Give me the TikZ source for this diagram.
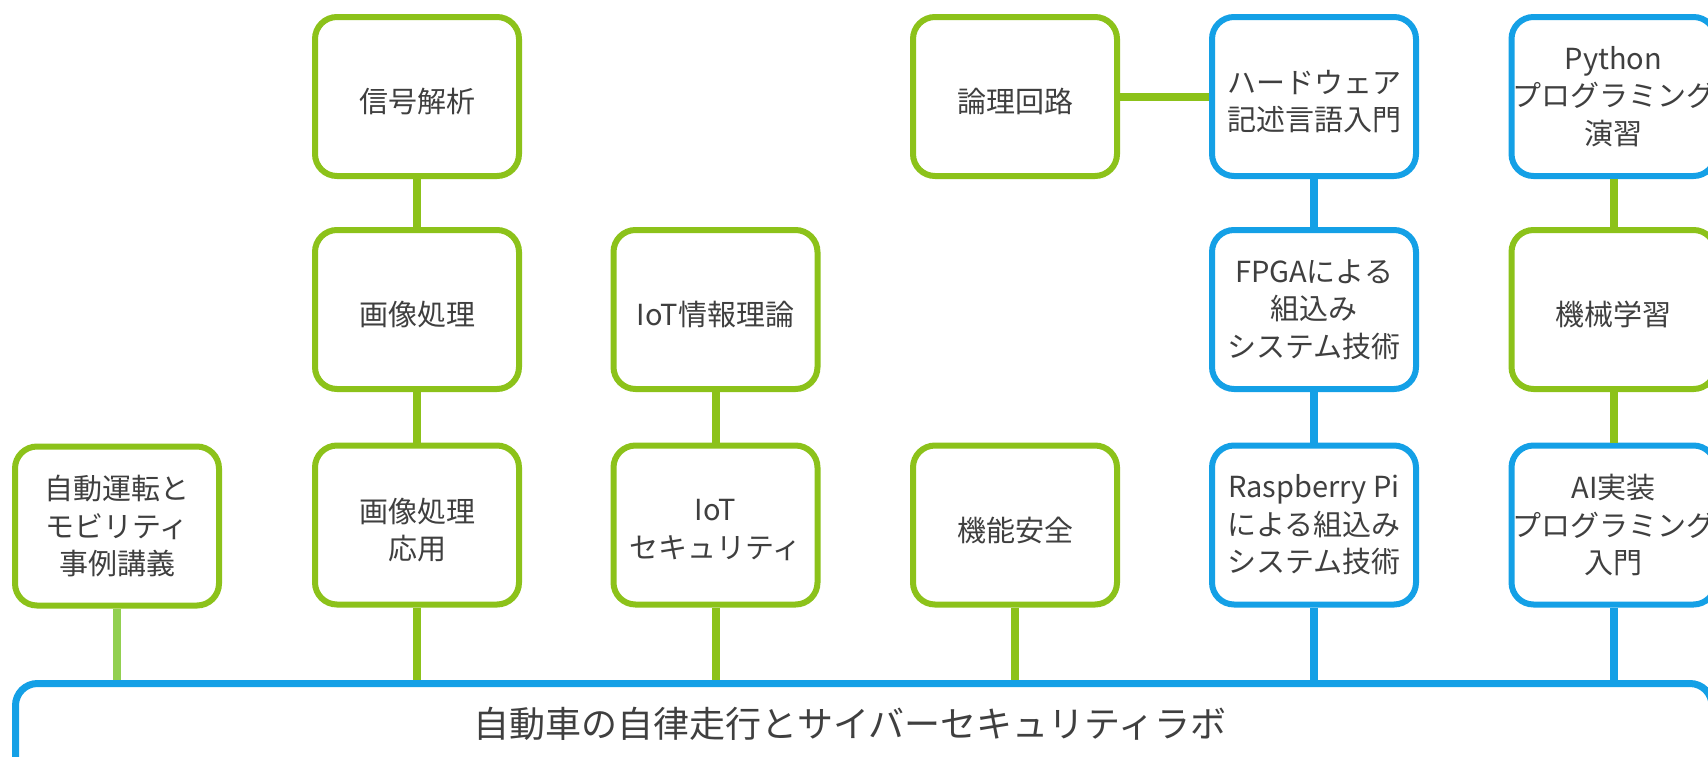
\documentclass[tikz,border=0pt]{standalone}
\usepackage{fontspec}
\setmainfont{Noto Sans CJK JP}
\definecolor{lgreen}{HTML}{8CC21A}
\definecolor{lblue}{HTML}{14A0E6}
\definecolor{pgreen}{HTML}{92D050}
\definecolor{txt}{HTML}{3F3F3F}
\newcommand\lowtext[1]{\raisebox{-5pt}[\height][\depth]{#1}}
\begin{document}
\begin{tikzpicture}[x=1pt,y=-1pt,
  box/.style={draw, line width=6pt, rounded corners=22pt, fill=white,
    minimum width=204pt, minimum height=159pt, align=center, text=txt,
    font=\fontsize{29}{37.5}\selectfont, inner sep=0pt},
  gbox/.style={box, draw=lgreen},
  bbox/.style={box, draw=lblue},
  gline/.style={draw=lgreen, line width=8pt},
  bline/.style={draw=lblue, line width=8pt},
  pline/.style={draw=pgreen, line width=8pt},
  barbox/.style={draw=lblue, line width=7pt, rounded corners=22pt,
    minimum width=1696.5pt, minimum height=116.5pt, inner sep=0pt},
  bartext/.style={text=txt, font=\fontsize{36}{40}\selectfont, inner sep=0pt}
]
\useasboundingbox (0,0) rectangle (1708,756);
\clip (0,0) rectangle (1708,756);

\node[barbox] (bar) at (863.75,741.75) {};
\node[bartext] (bartxt) at (850,724) {自動車の自律走行とサイバーセキュリティラボ};

\node[gbox] (jidou) at (117,526) {自動運転と\\モビリティ\\事例講義};
\node[gbox] (shingou) at (417,96.5) {\lowtext{信号解析}};
\node[gbox] (gazou) at (417,309.5) {\lowtext{画像処理}};
\node[gbox] (gazouapp) at (417,525) {\lowtext{画像処理}\\\lowtext{応用}};
\node[gbox] (iotinfo) at (715.5,309.5) {\lowtext{IoT情報理論}};
\node[gbox] (iotsec) at (715.5,525) {\lowtext{IoT}\\\lowtext{セキュリティ}};
\node[gbox] (ronri) at (1015,96.5) {\lowtext{論理回路}};
\node[gbox] (kinou) at (1015,525) {\lowtext{機能安全}};
\node[bbox] (hdl) at (1314,96.5) {\lowtext{ハードウェア}\\\lowtext{記述言語入門}};
\node[bbox] (fpga) at (1314,309.5) {FPGAによる\\組込み\\システム技術};
\node[bbox] (rasp) at (1314,525) {Raspberry Pi\\による組込み\\システム技術};
\node[bbox] (python) at (1613.5,96.5) {Python\\プログラミング\\演習};
\node[gbox] (ml) at (1613.5,309.5) {\lowtext{機械学習}};
\node[bbox] (ai) at (1613.5,525) {AI実装\\プログラミング\\入門};

\draw[gline] (shingou.south) -- (gazou.north);
\draw[gline] (gazou.south) -- (gazouapp.north);
\draw[gline] (gazouapp.south) -- (gazouapp.south |- bar.north);
\draw[pline] (jidou.south) -- (jidou.south |- bar.north);
\draw[gline] (iotinfo.south) -- (iotsec.north);
\draw[gline] (iotsec.south) -- (iotsec.south |- bar.north);
\draw[gline] (kinou.south) -- (kinou.south |- bar.north);
\draw[gline] (ronri.east) -- (hdl.west);
\draw[bline] (hdl.south) -- (fpga.north);
\draw[bline] (fpga.south) -- (rasp.north);
\draw[bline] (rasp.south) -- (rasp.south |- bar.north);
\draw[gline] (python.south) -- (ml.north);
\draw[gline] (ml.south) -- (ai.north);
\draw[bline] (ai.south) -- (ai.south |- bar.north);
\end{tikzpicture}
\end{document}
